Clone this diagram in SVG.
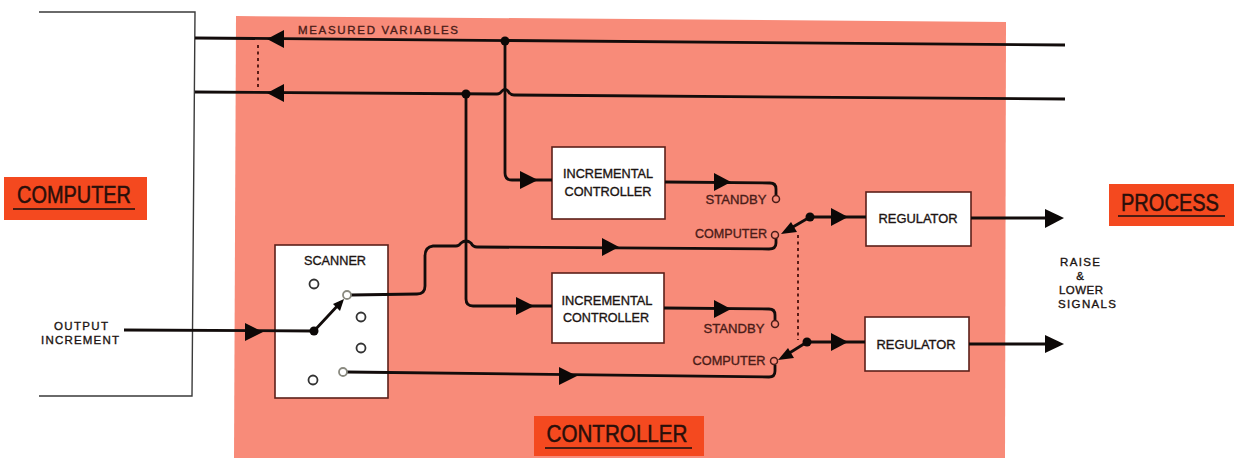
<svg xmlns="http://www.w3.org/2000/svg" width="1236" height="458" viewBox="0 0 1236 458">
<style>
text{font-family:"Liberation Sans",Arial,sans-serif;font-size:13px;fill:#1c1412;stroke:#1c1412;stroke-width:.35;text-anchor:middle}
.r{fill:#4a1c18;stroke:#4a1c18}
.s{font-size:11.5px}
.t{font-size:24px;fill:#2a0f0a;stroke:#2a0f0a;stroke-width:.5}
.box{fill:#fff;stroke:#5c2019;stroke-width:1.6}
.tag{fill:#f4491f}
.ul{stroke:#4a1c12;stroke-width:1.8;fill:none}
.w{fill:none;stroke:#120c0b;stroke-width:2.8;stroke-linejoin:round}
.thin{fill:none;stroke:#3a3a3a;stroke-width:1.4}
.d{fill:none;stroke:#5a1c16;stroke-width:2;stroke-dasharray:3 3.5}
.a{fill:#0c0807}
.o{fill:#fff;stroke:#333;stroke-width:1.8}
.oc{fill:none;stroke:#4a1c18;stroke-width:1.5}
.og{fill:#fff;stroke:#8a8a80;stroke-width:1.8}
</style>
<polygon points="236,16 1006,22 1005,458 234,458" fill="#f88b79"/>
<g id="tag-computer"><rect class="tag" x="4" y="177" width="143" height="43"/><text class="t" x="74" y="203" textLength="114" lengthAdjust="spacingAndGlyphs">COMPUTER</text><path class="ul" d="M13,209 H135"/></g>
<g id="tag-process"><rect class="tag" x="1109" y="184" width="125" height="42"/><text class="t" x="1170" y="211" textLength="98" lengthAdjust="spacingAndGlyphs">PROCESS</text><path class="ul" d="M1118,216 H1225"/></g>
<g id="tag-controller"><rect class="tag" x="534" y="416" width="170" height="40"/><text class="t" x="617" y="442" textLength="141" lengthAdjust="spacingAndGlyphs">CONTROLLER</text><path class="ul" d="M545,448 H692"/></g>
<g id="scanner"><rect class="box" x="275" y="245" width="113" height="153"/><text x="335" y="265" textLength="62" lengthAdjust="spacingAndGlyphs">SCANNER</text>
<circle class="o" cx="314" cy="284" r="4.5"/><circle class="o" cx="361" cy="317" r="4.5"/><circle class="o" cx="361" cy="348" r="4.5"/><circle class="o" cx="313" cy="380" r="4.5"/></g>
<g id="controller-1"><rect class="box" x="552" y="147" width="113" height="72"/><text x="608" y="178" textLength="90" lengthAdjust="spacingAndGlyphs">INCREMENTAL</text><text x="608" y="196" textLength="87" lengthAdjust="spacingAndGlyphs">CONTROLLER</text></g>
<g id="controller-2"><rect class="box" x="552" y="273" width="112" height="70"/><text x="607" y="305" textLength="91" lengthAdjust="spacingAndGlyphs">INCREMENTAL</text><text x="606" y="322" textLength="86" lengthAdjust="spacingAndGlyphs">CONTROLLER</text></g>
<g id="regulator-1"><rect class="box" x="866" y="192" width="105" height="54"/><text x="918" y="223" textLength="79" lengthAdjust="spacingAndGlyphs">REGULATOR</text></g>
<g id="regulator-2"><rect class="box" x="865" y="317" width="104" height="54"/><text x="916" y="349" textLength="79" lengthAdjust="spacingAndGlyphs">REGULATOR</text></g>
<g id="connectors">
<path class="thin" d="M39,12 H195 L192,396 H39"/>
<path class="w" d="M195,38 L1065,45"/>
<path class="w" d="M195,92 L497,94 Q500,94 502,91 Q505,88 508,91 Q510,95 514,95 L1065,99"/>
<path class="w" d="M505,41 V173 Q505,180 512,180 H552"/>
<path class="w" d="M466,94 V299 Q466,306 473,306 H552"/>
<path class="w" d="M665,182 L770,183 Q776,183 776,189 V195"/>
<path class="w" d="M664,308 L769,309 Q775,309 775,315 V320"/>
<path class="w" d="M124,330 L314,331 L341,302"/>
<path class="w" d="M351,295 L417,294 Q425,294 425,286 V256 Q425,247 433,246 L456,246 Q459,246 461,243 Q466,239 471,243 Q473,247 477,247 L769,249 Q776,249 776,243 V238"/>
<path class="w" d="M347,372 L769,377 Q775,377 775,371 V365"/>
<path class="w" d="M810,217 L786,231"/>
<path class="w" d="M807,342 L783,357"/>
<path class="w" d="M810,217 H866"/>
<path class="w" d="M807,342 H865"/>
<path class="w" d="M971,218 H1048"/>
<path class="w" d="M969,344 H1048"/>
<path class="d" d="M258,45 V88"/>
<path class="d" d="M798,235 V340"/>
<g class="a">
<polygon points="267,39 284,30 284,48"/>
<polygon points="267,93 284,84 284,102"/>
<polygon points="538,180 520,171 520,189"/>
<polygon points="534,306 516,297 516,315"/>
<polygon points="731,182 714,173 714,191"/>
<polygon points="731,309 714,300 714,318"/>
<polygon points="619,247 602,238 602,256"/>
<polygon points="577,376 559,367 559,385"/>
<polygon points="263,332 245,323 245,341"/>
<polygon points="848,217 831,208 831,226"/>
<polygon points="848,342 831,333 831,351"/>
<polygon points="1064,218 1045,209 1045,228"/>
<polygon points="1064,344 1045,335 1045,353"/>
<polygon points="344,299 333,304 340,311"/>
<polygon points="781,234 791,222 797,232"/>
<polygon points="778,360 788,348 794,358"/>
<circle cx="505" cy="41" r="4.5"/>
<circle cx="466" cy="94" r="4.5"/>
<circle cx="314" cy="331" r="4.5"/>
<circle cx="810" cy="217" r="4.5"/>
<circle cx="807" cy="342" r="4.5"/>
</g>
<circle class="og" cx="347" cy="295" r="4"/><circle class="og" cx="343" cy="372" r="4"/>
</g>
<g id="switch-labels">
<text class="r" x="736" y="204" textLength="61" lengthAdjust="spacingAndGlyphs">STANDBY</text><circle class="oc" cx="776" cy="199" r="3.5"/>
<text class="r" x="731" y="238" textLength="72" lengthAdjust="spacingAndGlyphs">COMPUTER</text><circle class="oc" cx="775" cy="235" r="3.5"/>
<text class="r" x="734" y="333" textLength="61" lengthAdjust="spacingAndGlyphs">STANDBY</text><circle class="oc" cx="775" cy="324" r="3.5"/>
<text class="r" x="729" y="365" textLength="73" lengthAdjust="spacingAndGlyphs">COMPUTER</text><circle class="oc" cx="774" cy="361" r="3.5"/>
</g>
<g id="labels">
<text class="r s" x="378" y="34" textLength="160">MEASURED VARIABLES</text>
<text class="s" x="81" y="330" textLength="54">OUTPUT</text>
<text class="s" x="80" y="344" textLength="78">INCREMENT</text>
<text class="s" x="1080" y="266" textLength="40">RAISE</text>
<text class="s" x="1080" y="280">&amp;</text>
<text class="s" x="1081" y="294" textLength="44">LOWER</text>
<text class="s" x="1087" y="308" textLength="58">SIGNALS</text>
</g>
</svg>
